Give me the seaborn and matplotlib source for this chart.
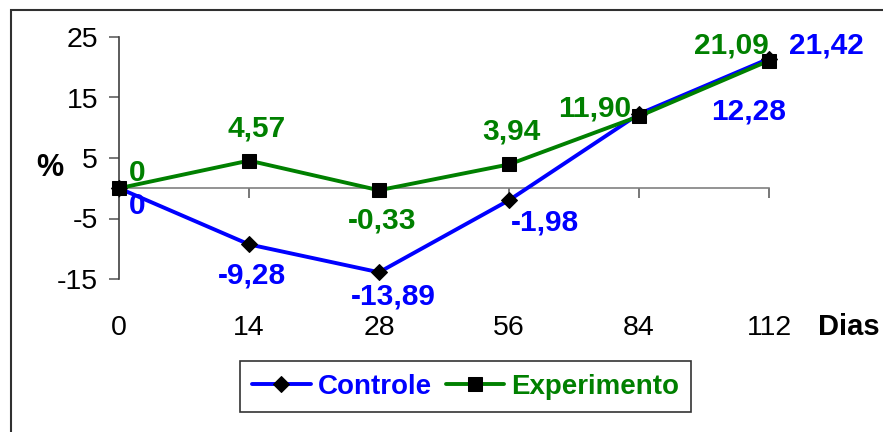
import matplotlib
matplotlib.use("Agg")
import matplotlib.pyplot as plt
import matplotlib.patches as mpatches
import matplotlib.transforms as mtransforms
import seaborn as sns
import pandas as pd

dias = ["0", "14", "28", "56", "84", "112"]
controle = [0, -9.28, -13.89, -1.98, 12.28, 21.42]
experimento = [0, 4.57, -0.33, 3.94, 11.90, 21.09]
yticks = [-15, -5, 5, 15, 25]

sns.set_theme(style="white")
plt.rcParams["font.family"] = ["Liberation Sans", "DejaVu Sans"]

W, H, DPI = 883, 432, 100
fig = plt.figure(figsize=(W / DPI, H / DPI), dpi=DPI)

# plot area in pixel terms
left, right, top, bottom = 119, 769, 37, 279
ax = fig.add_axes([left / W, 1 - bottom / H, (right - left) / W, (bottom - top) / H])

df = pd.DataFrame({"pos": range(len(dias)), "dia": dias,
                   "Controle": controle, "Experimento": experimento})

BLUE = "#0000ff"
GREEN = "#008000"

sns.lineplot(data=df, x="pos", y="Controle", ax=ax, color=BLUE, linewidth=2.8,
             marker="D", markersize=8, markerfacecolor="black",
             markeredgecolor="black", label="Controle", clip_on=False, zorder=3)
sns.lineplot(data=df, x="pos", y="Experimento", ax=ax, color=GREEN, linewidth=2.8,
             marker="s", markersize=9.5, markerfacecolor="black",
             markeredgecolor="black", label="Experimento", clip_on=False, zorder=4)

ax.set_xlim(0, len(dias) - 1)
ax.set_ylim(-15, 25)
ax.set_xlabel("")
ax.set_ylabel("")

for s in ("top", "right"):
    ax.spines[s].set_visible(False)
ax.spines["bottom"].set_position(("data", 0))
ax.spines["bottom"].set_color("#808080")
ax.spines["bottom"].set_linewidth(1.2)
ax.spines["left"].set_color("#404040")
ax.spines["left"].set_linewidth(1.2)

ax.set_xticks(range(len(dias)))
ax.set_xticklabels([])
ax.tick_params(axis="x", direction="out", length=7, width=1.2, color="#606060",
               bottom=True)
ax.set_yticks(yticks)
ax.set_yticklabels([str(t) for t in yticks], fontsize=20.5, color="black")
ax.tick_params(axis="y", direction="out", length=7, width=1.2, color="#606060",
               pad=8, left=True)

# category labels along the bottom of the plot area
trans = mtransforms.blended_transform_factory(ax.transData, ax.transAxes)
for i, d in enumerate(dias):
    ax.text(i, -(328 - bottom) / (bottom - top), d, transform=trans,
            ha="center", va="center", fontsize=20.5, color="black")

fig.text(849 / W, 1 - 327 / H, "Dias", ha="center", va="center",
         fontsize=21, fontweight="bold", color="black")
fig.text(50 / W, 1 - 168 / H, "%", ha="center", va="center",
         fontsize=22, fontweight="bold", color="black")

# value labels: (pixel offsets dx, dy from the point)
ctrl_off = [(18, 18), (3, 31), (14, 24), (36, 22), (110, -2), (57, -13)]
exp_off = [(18, -15), (8, -32), (3, 30), (2, -33), (-44, -8), (-38, -15)]


def fmt(v):
    return "0" if v == 0 else f"{v:.2f}".replace(".", ",")


for i, v in enumerate(controle):
    dx, dy = ctrl_off[i]
    ax.annotate(fmt(v), xy=(i, v), xytext=(dx, -dy), textcoords="offset pixels",
                ha="center", va="center", fontsize=21.5, fontweight="bold",
                color=BLUE, annotation_clip=False, zorder=5)
for i, v in enumerate(experimento):
    dx, dy = exp_off[i]
    ax.annotate(fmt(v), xy=(i, v), xytext=(dx, -dy), textcoords="offset pixels",
                ha="center", va="center", fontsize=21.5, fontweight="bold",
                color=GREEN, annotation_clip=False, zorder=5)

# legend below the plot
leg = ax.legend(loc="center", bbox_to_anchor=((239 + 692) / 2 / W, 1 - (360 + 413) / 2 / H),
                bbox_transform=fig.transFigure, ncol=2, fontsize=20, frameon=True,
                fancybox=False, edgecolor="black", handlelength=2.1,
                handletextpad=0.25, columnspacing=0.5, borderpad=0.45,
                borderaxespad=0)
leg.get_frame().set_linewidth(1.2)
for txt, col in zip(leg.get_texts(), [BLUE, GREEN]):
    txt.set_color(col)
    txt.set_fontweight("bold")

# outer chart frame
fig.patches.append(mpatches.Rectangle((11 / W, -0.2), 1.2, 1.2 - 10 / H,
                                      transform=fig.transFigure, fill=False,
                                      edgecolor="#303030", linewidth=1.5))

fig.savefig("out.png", dpi=DPI)
